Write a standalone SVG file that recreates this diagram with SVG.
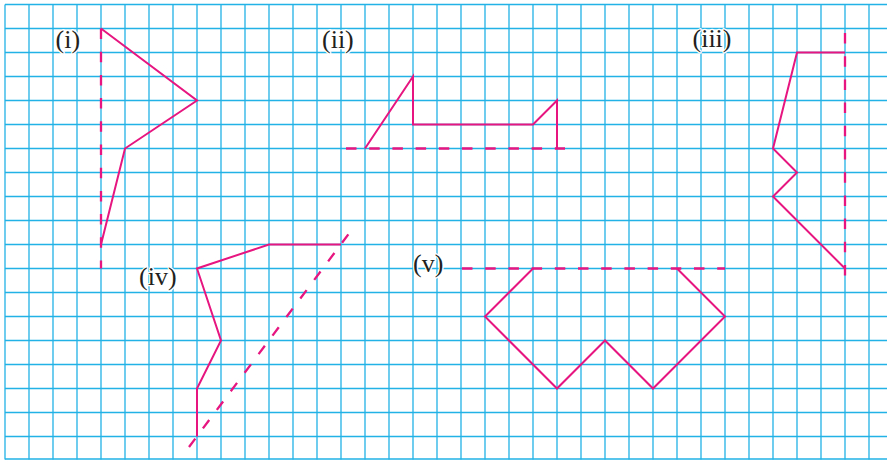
<svg xmlns="http://www.w3.org/2000/svg" width="887" height="460" viewBox="0 0 887 460">
<style>
.grid{stroke:#22b2e6;stroke-width:1.3;fill:none}
.shape{stroke:#e6157f;stroke-width:2;fill:none;stroke-linejoin:miter}
.axis{stroke:#e6157f;stroke-width:2.3;fill:none;stroke-dasharray:10.5 12.7}
.lbl{font-family:"Liberation Serif","Times New Roman",serif;font-size:26px;fill:#231f20;stroke:#fff;stroke-width:2.5;paint-order:stroke;stroke-linejoin:round}
</style>
<rect width="887" height="460" fill="#fff"/>
<g id="grid" class="grid">
<path d="M5 4.5V459.5M29 4.5V459.5M53 4.5V459.5M77 4.5V459.5M101 4.5V459.5M125 4.5V459.5M149 4.5V459.5M173 4.5V459.5M197 4.5V459.5M221 4.5V459.5M245 4.5V459.5M269 4.5V459.5M293 4.5V459.5M317 4.5V459.5M341 4.5V459.5M365 4.5V459.5M389 4.5V459.5M413 4.5V459.5M437 4.5V459.5M461 4.5V459.5M485 4.5V459.5M509 4.5V459.5M533 4.5V459.5M557 4.5V459.5M581 4.5V459.5M605 4.5V459.5M629 4.5V459.5M653 4.5V459.5M677 4.5V459.5M701 4.5V459.5M725 4.5V459.5M749 4.5V459.5M773 4.5V459.5M797 4.5V459.5M821 4.5V459.5M845 4.5V459.5M869 4.5V459.5"/>
<path d="M5 4.5H887M5 28.5H887M5 52.5H887M5 76.5H887M5 100.5H887M5 124.5H887M5 148.5H887M5 172.5H887M5 196.5H887M5 220.5H887M5 244.5H887M5 268.5H887M5 292.5H887M5 316.5H887M5 340.5H887M5 364.5H887M5 388.5H887M5 412.5H887M5 436.5H887M5 459H887"/>
</g>
<g id="connectors">
<path class="axis" d="M101 28.5V268.5"/>
<path class="axis" d="M346 148.5H565"/>
<path class="axis" d="M845 33V276"/>
<path class="axis" d="M189 447L349 233.5"/>
<path class="axis" d="M462 268.5H725"/>
</g>
<g id="fig-i">
<polyline class="shape" points="101,28.5 197,100.5 125,148.5 101,244.5"/>
<text class="lbl" x="55.5" y="47.5">(i)</text>
</g>
<g id="fig-ii">
<polyline class="shape" points="365,148.5 413,76.5 413,124.5 533,124.5 557,100.5 557,148.5"/>
<text class="lbl" x="322" y="48">(ii)</text>
</g>
<g id="fig-iii">
<polyline class="shape" points="845,52.5 797,52.5 773,148.5 797,172.5 773,196.5 845,268.5"/>
<text class="lbl" x="692.5" y="47">(iii)</text>
</g>
<g id="fig-iv">
<polyline class="shape" points="341,244.5 269,244.5 197,268.5 221,340.5 197,388.5 197,436.5"/>
<text class="lbl" x="139" y="285">(iv)</text>
</g>
<g id="fig-v">
<polyline class="shape" points="677,268.5 725,316.5 653,388.5 605,340.5 557,388.5 485,316.5 533,268.5"/>
<text class="lbl" x="413" y="272">(v)</text>
</g>
</svg>
